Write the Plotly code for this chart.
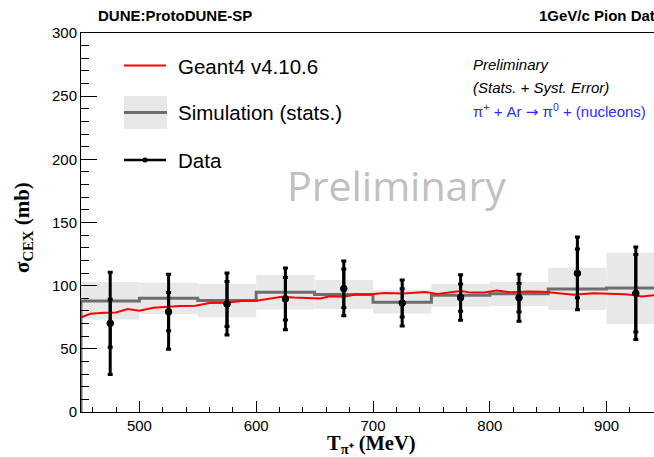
import plotly.graph_objects as go

# ---------------- data ----------------
bin_edges = [450, 500, 550, 600, 650, 700, 750, 800, 850, 900, 950]
sim_xsec = [87.8, 90.0, 88.3, 94.8, 93.0, 86.8, 92.4, 93.7, 97.3, 98.2]
sim_lo = [73.3, 77.5, 75.0, 81.2, 81.5, 78.0, 83.3, 84.0, 80.7, 69.6]
sim_hi = [103.0, 102.3, 101.3, 108.4, 104.5, 96.5, 101.3, 103.0, 114.2, 126.0]

data_T = [475, 525, 575, 625, 675, 725, 775, 825, 875, 925]
data_xsec = [70.2, 79.4, 85.5, 89.6, 97.8, 86.3, 90.6, 90.5, 109.8, 94.0]
data_stat = [19.0, 15.1, 17.8, 16.8, 15.3, 11.2, 10.8, 11.3, 19.3, 30.6]
data_total = [40.5, 29.7, 24.5, 24.4, 21.7, 18.2, 18.0, 18.6, 28.8, 36.6]

g4_T = [450, 458, 470, 480, 490, 500, 512, 525, 535, 548, 560, 575, 587, 600,
        610, 622, 632, 645, 655, 663, 675, 685, 698, 710, 726, 745, 755, 775,
        784, 795, 806, 818, 833, 846, 860, 872, 889, 900, 915, 923, 930, 942, 955]
g4_xsec = [75.0, 77.8, 78.5, 78.8, 81.5, 80.2, 82.6, 83.5, 84.0, 84.2, 86.3, 86.5,
           87.8, 88.0, 89.5, 91.3, 90.6, 90.2, 89.8, 91.6, 91.3, 93.0, 93.3, 94.2,
           93.8, 95.0, 93.5, 95.8, 94.5, 94.6, 96.2, 94.7, 95.3, 95.1, 94.0, 92.9,
           94.0, 93.9, 93.2, 92.6, 91.4, 92.6, 93.0]

x_tick_vals = [500, 600, 700, 800, 900]
y_tick_vals = [0, 50, 100, 150, 200, 250, 300]

# ---------------- geometry helpers ----------------
W, H = 654, 457
L, T, B, R = 81, 33, 45, 0
PW, PH = W - L - R, H - T - B


def px(x):
    return (x - L) / PW


def py(y):
    return (H - B - y) / PH


bin_centers = [(a + b) / 2 for a, b in zip(bin_edges[:-1], bin_edges[1:])]
band_height = [h - l for h, l in zip(sim_hi, sim_lo)]

fig = go.Figure()

# simulation stat band
fig.add_trace(go.Bar(
    x=bin_centers, y=band_height, base=sim_lo, width=50,
    marker=dict(color="#e8e8e8", line=dict(width=0)),
    hoverinfo="skip", showlegend=False))

# simulation histogram (step)
step_x = [bin_edges[0]] + bin_edges
step_y = [0] + sim_xsec + [sim_xsec[-1]]
fig.add_trace(go.Scatter(
    x=step_x, y=step_y, mode="lines", line=dict(color="#6e6e6e", width=3, shape="hv"),
    showlegend=False))

# Geant4 curve
fig.add_trace(go.Scatter(
    x=g4_T, y=g4_xsec, mode="lines", line=dict(color="#ff0000", width=2),
    showlegend=False))

# data: total error
fig.add_trace(go.Scatter(
    x=data_T, y=data_xsec, mode="markers",
    marker=dict(color="black", size=7),
    error_y=dict(type="data", array=data_total, color="black", thickness=3, width=2.5),
    showlegend=False))
# data: stat error
fig.add_trace(go.Scatter(
    x=data_T, y=data_xsec, mode="markers",
    marker=dict(color="black", size=7),
    error_y=dict(type="data", array=data_stat, color="black", thickness=3, width=2.5),
    showlegend=False))

tickfont = dict(family="Liberation Sans, Arial", size=15, color="black")

fig.update_xaxes(
    range=[450, 450 + PW / 1.168], showgrid=False, zeroline=False,
    showline=True, linecolor="black", linewidth=1, mirror=True,
    tickmode="array", tickvals=x_tick_vals, ticks="inside", ticklen=11,
    tickcolor="black", tickwidth=1, tickfont=tickfont,
    minor=dict(ticks="inside", dtick=20, tick0=500, ticklen=5.5, tickcolor="black",
               tickwidth=1, showgrid=False))
fig.update_yaxes(
    range=[0, 300], showgrid=False, zeroline=False,
    showline=True, linecolor="black", linewidth=1, mirror=False,
    tickmode="array", tickvals=y_tick_vals, ticks="inside", ticklen=16,
    tickcolor="black", tickwidth=1, tickfont=tickfont,
    minor=dict(ticks="inside", dtick=10, tick0=0, ticklen=8, tickcolor="black",
               tickwidth=1, showgrid=False))

annotations = []


def ann(text, x, y, size, xanchor="left", color="black", family="Liberation Sans, Arial",
        angle=0, yanchor="middle"):
    annotations.append(dict(
        text=text, x=px(x), y=py(y), xref="paper", yref="paper",
        xanchor=xanchor, yanchor=yanchor, showarrow=False, textangle=angle,
        font=dict(family=family, size=size, color=color)))


# headers
ann("<b>DUNE:ProtoDUNE-SP</b>", 96, 16, 15)
ann("<b>1GeV/c Pion Data</b>", 537, 16, 15)

# axis titles
ann("<b>T<sub>π⁺</sub> (MeV)</b>", 371, 444, 20.5, xanchor="center", family="Liberation Serif")
ann("<b>σ<sub>CEX</sub> (mb)</b>", 23, 228, 21, xanchor="center", family="Liberation Serif",
    angle=-90)

# info text
ann("<i>Preliminary</i>", 471, 64, 15)
ann("<i>(Stats. + Syst. Error)</i>", 471, 87, 15)
ann("π<sup>+</sup> + Ar <span style='font-family:DejaVu Sans'>→</span> π<sup>0</sup> + (nucleons)",
    471, 111, 15, color="#2a2aff")

# watermark
ann("Preliminary", 396, 185, 41, xanchor="center", color="#c0c0c0", family="Open Sans")

# legend labels
ann("Geant4 v4.10.6", 176, 66, 20.5)
ann("Simulation (stats.)", 176, 112, 20.5)
ann("Data", 176, 160, 20.5)

shapes = [
    dict(type="line", xref="paper", yref="paper", x0=px(124), x1=px(166), y0=py(65.5), y1=py(65.5),
         line=dict(color="#ff0000", width=2)),
    dict(type="rect", xref="paper", yref="paper", x0=px(124), x1=px(167), y0=py(96), y1=py(129),
         fillcolor="#e8e8e8", line=dict(width=0)),
    dict(type="line", xref="paper", yref="paper", x0=px(124), x1=px(167), y0=py(112.5), y1=py(112.5),
         line=dict(color="#6e6e6e", width=3)),
    dict(type="line", xref="paper", yref="paper", x0=px(124), x1=px(166), y0=py(160), y1=py(160),
         line=dict(color="black", width=2.5)),
    dict(type="circle", xref="paper", yref="paper", x0=px(142.5), x1=px(147.5), y0=py(157.5),
         y1=py(162.5), fillcolor="black", line=dict(width=0)),
]

fig.update_layout(
    width=W, height=H, margin=dict(l=L, r=R, t=T, b=B),
    plot_bgcolor="white", paper_bgcolor="white",
    annotations=annotations, shapes=shapes, showlegend=False, barmode="overlay")

fig.write_html("out.html")
